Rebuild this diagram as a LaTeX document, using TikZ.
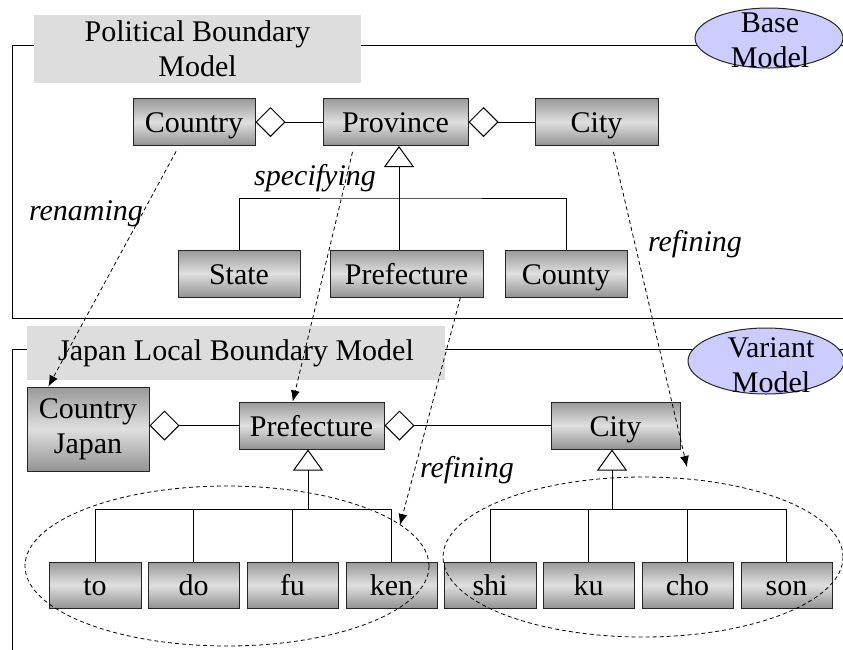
\documentclass[tikz,border=0pt]{standalone}
\usepackage{fontspec}
\setmainfont{Liberation Serif}
\usetikzlibrary{shapes,arrows.meta}
\definecolor{tittelgraa}{HTML}{DDDDDD}
\definecolor{modellblaa}{HTML}{CCCCFF}

\begin{document}
\begin{tikzpicture}[
    x=1pt, y=-1pt, line width=1pt,
    every node/.style={font=\fontsize{30}{35}\selectfont, inner sep=0pt},
    boks/.style={rectangle, draw=black!85, top color=gray!80,
        bottom color=gray!85, middle color=gray!25},
    klasse/.style={boks, minimum height=47pt, text height=25pt, text depth=4pt},
    tittel/.style={rectangle, fill=tittelgraa, align=center},
    modell/.style={ellipse, draw=black!85, fill=modellblaa},
    kant/.style={font=\fontsize{30}{35}\selectfont\itshape},
    del/.style={{Diamond[open, length=30pt, width=30pt]}-},
    arv/.style={-{Triangle[open, length=21pt, width=30pt]}},
    pil/.style={line width=0.8pt, dash pattern=on 4pt off 3pt,
        -{Latex[length=11pt, width=9pt]}},
    gruppe/.style={ellipse, draw, line width=0.8pt, dash pattern=on 4pt off 3pt}
    ]
\useasboundingbox (0,0) rectangle (843,649);
\clip (0,0) rectangle (843,649);

%Upper part: base model
\draw (12,45) rectangle (870,318);
\node[tittel, minimum width=327pt, minimum height=68pt] (pbtittel) at (197.5,49)
    {Political Boundary\\Model};
\node[modell, minimum width=148pt, minimum height=60pt] (base) at (769,38) {};
\node[align=center] (basetekst) at (770,40) {Base\\Model};

\node[klasse, minimum width=122pt] (country) at (194,122) {Country};
\node[klasse, minimum width=145pt] (province) at (395.5,122) {Province};
\node[klasse, minimum width=123pt] (city) at (596.5,122) {City};
\node[klasse, minimum width=122pt] (state) at (239,273.5) {State};
\node[klasse, minimum width=153pt] (prefecture) at (406.5,273.5) {Prefecture};
\node[klasse, minimum width=122pt] (county) at (566,273.5) {County};

\draw[del] (country.east) -- (province.west);
\draw[del] (province.east) -- (city.west);
\coordinate (pj) at (399,198);
\draw[arv] (pj) -- (pj |- province.south);
\draw (state.north) |- (pj) -| (county.north);
\draw (pj) -- (pj |- prefecture.north);

%Lower part: variant model
\draw (12,349) rectangle (870,680);
\node[tittel, minimum width=418pt, minimum height=54pt] (jltittel) at (236,353)
    {Japan Local Boundary Model};
\node[modell, minimum width=156pt, minimum height=66pt] (variant) at (766,361) {};
\node[align=center] (varianttekst) at (771,365) {Variant\\Model};

\node[boks, minimum width=122pt, minimum height=84pt, align=center] (cjapan)
    at (88,429) {Country\\Japan};
\node[klasse, minimum width=145pt] (pref) at (311.5,425.5) {Prefecture};
\node[klasse, minimum width=129pt] (bycity) at (615.5,425.5) {City};

\draw[del] (pref.west -| cjapan.east) -- (pref.west);
\draw[del] (pref.east) -- (bycity.west);

\node[klasse, minimum width=92pt, minimum height=46pt] (to) at (95,585) {to};
\node[klasse, minimum width=91pt, minimum height=46pt] (do) at (193.5,585) {do};
\node[klasse, minimum width=91pt, minimum height=46pt] (fu) at (292.5,585) {fu};
\node[klasse, minimum width=91pt, minimum height=46pt] (ken) at (391.5,585) {ken};
\node[klasse, minimum width=92pt, minimum height=46pt] (shi) at (490,585) {shi};
\node[klasse, minimum width=91pt, minimum height=46pt] (ku) at (588.5,585) {ku};
\node[klasse, minimum width=91pt, minimum height=46pt] (cho) at (687.5,585) {cho};
\node[klasse, minimum width=91pt, minimum height=46pt] (son) at (786.5,585) {son};

\coordinate (kj) at (308,509);
\draw[arv] (kj) -- (kj |- pref.south);
\draw (to.north) |- (kj) -| (ken.north);
\draw (do.north) -- (do.north |- kj);
\draw (fu.north) -- (fu.north |- kj);
\coordinate (sj) at (612,509);
\draw[arv] (sj) -- (sj |- bycity.south);
\draw (shi.north) |- (sj) -| (son.north);
\draw (ku.north) -- (ku.north |- sj);
\draw (cho.north) -- (cho.north |- sj);

\node[gruppe, minimum width=404pt, minimum height=160pt] (kengruppe) at (227,566) {};
\node[gruppe, minimum width=400pt, minimum height=160pt] (shigruppe) at (643,557) {};

%dashed mappings between the models
\node[kant] (renaming) at (86,214) {renaming};
\node[kant] (specifying) at (315,178) {specifying};
\node[kant] (refining) at (695,244) {refining};
\node[kant] (refining2) at (467,470) {refining};
\coordinate (citymaal) at (687,467);
\coordinate (kenmaal) at (400,525);
\draw[pil, shorten <=6pt] (country.-122) -- (cjapan.133);
\draw[pil, shorten <=6pt] (province.-150) -- (pref.128);
\draw[pil, shorten <=6pt] (city.-57) -- (citymaal);
\draw[pil] (prefecture.-24) -- (kenmaal);
\end{tikzpicture}
\end{document}
